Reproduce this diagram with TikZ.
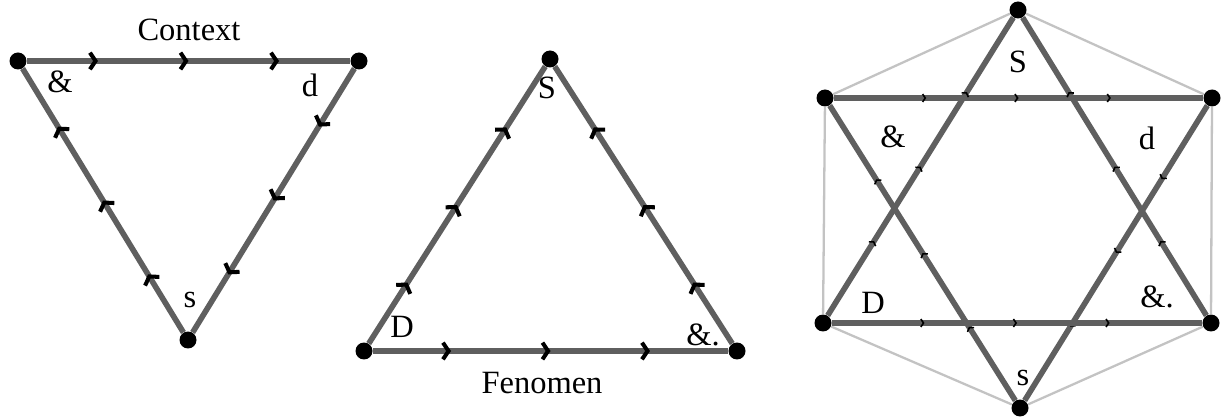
\documentclass[tikz,border=0pt]{standalone}
\usepackage{fontspec}
\setmainfont{Liberation Serif}
\usetikzlibrary{arrows.meta, decorations.markings}
\definecolor{edgegray}{RGB}{95,95,95}
\definecolor{hexgray}{RGB}{195,195,195}
\tikzset{bigtip/.tip={Straight Barb[length=3.2pt, width=9.5pt, line width=2.3pt]}}
\tikzset{smalltip/.tip={Straight Barb[length=1.5pt, width=4.5pt, line width=0.9pt]}}

\begin{document}
\begin{tikzpicture}[x=0.02cm, y=-0.02cm,
	dot/.style={shape=circle, fill=black, inner sep=0pt, minimum size=0.34cm},
	lbl/.style={font=\fontsize{18.5}{22}\selectfont, inner sep=0pt},
	side/.style={draw=edgegray, line width=3.2pt, postaction={decorate}, decoration={markings,
		mark=at position 0.22 with {\arrow[black]{bigtip}},
		mark=at position 0.5 with {\arrow[black]{bigtip}},
		mark=at position 0.78 with {\arrow[black]{bigtip}}}},
	starside/.style={draw=edgegray, line width=3.2pt, postaction={decorate}, decoration={markings,
		mark=at position 0.25 with {\arrow[black]{smalltip}},
		mark=at position 0.5 with {\arrow[black]{smalltip}},
		mark=at position 0.75 with {\arrow[black]{smalltip}}}},
	hexside/.style={draw=hexgray, line width=1.3pt}]
	\useasboundingbox (0, 0) rectangle (1227, 418);
	% Context triangle:
	\node[dot] (ctxamp) at (18, 61) {};
	\node[dot] (ctxd) at (359, 61) {};
	\node[dot] (ctxs) at (188, 340) {};
	\draw[side] (ctxamp) -- (ctxd);
	\draw[side] (ctxd) -- (ctxs);
	\draw[side] (ctxs) -- (ctxamp);
	\node[lbl] (ctxtitle) at (189, 30) {Context};
	\node[lbl] (ctxlamp) at (60, 82) {\&};
	\node[lbl] (ctxld) at (310, 85) {d};
	\node[lbl] (ctxls) at (190, 300) {s};
	% Fenomen triangle:
	\node[dot] (fenD) at (364, 351) {};
	\node[dot] (fenS) at (550, 59) {};
	\node[dot] (fenamp) at (737, 351) {};
	\draw[side] (fenD) -- (fenamp);
	\draw[side] (fenD) -- (fenS);
	\draw[side] (fenamp) -- (fenS);
	\node[lbl] (fentitle) at (542, 383) {Fenomen};
	\node[lbl] (fenlS) at (547, 88) {S};
	\node[lbl] (fenlD) at (402, 327) {D};
	\node[lbl] (fenlamp) at (703, 335) {\&.};
	% Hexagram:
	\node[dot] (hexS) at (1018, 10) {};
	\node[dot] (hexamp) at (825, 98) {};
	\node[dot] (hexd) at (1212, 98) {};
	\node[dot] (hexD) at (823, 323) {};
	\node[dot] (hexampdot) at (1211, 323) {};
	\node[dot] (hexs) at (1020, 408) {};
	\draw[hexside] (hexS) -- (hexamp) -- (hexD) -- (hexs) -- (hexampdot) -- (hexd) -- (hexS);
	\draw[starside] (hexamp) -- (hexd);
	\draw[starside] (hexd) -- (hexs);
	\draw[starside] (hexs) -- (hexamp);
	\draw[starside] (hexD) -- (hexampdot);
	\draw[starside] (hexD) -- (hexS);
	\draw[starside] (hexampdot) -- (hexS);
	\node[lbl] (hexlS) at (1018, 62) {S};
	\node[lbl] (hexlamp) at (893, 137) {\&};
	\node[lbl] (hexld) at (1147, 138) {d};
	\node[lbl] (hexlD) at (873, 303) {D};
	\node[lbl] (hexlampdot) at (1157, 297) {\&.};
	\node[lbl] (hexls) at (1023, 378) {s};
\end{tikzpicture}
\end{document}
